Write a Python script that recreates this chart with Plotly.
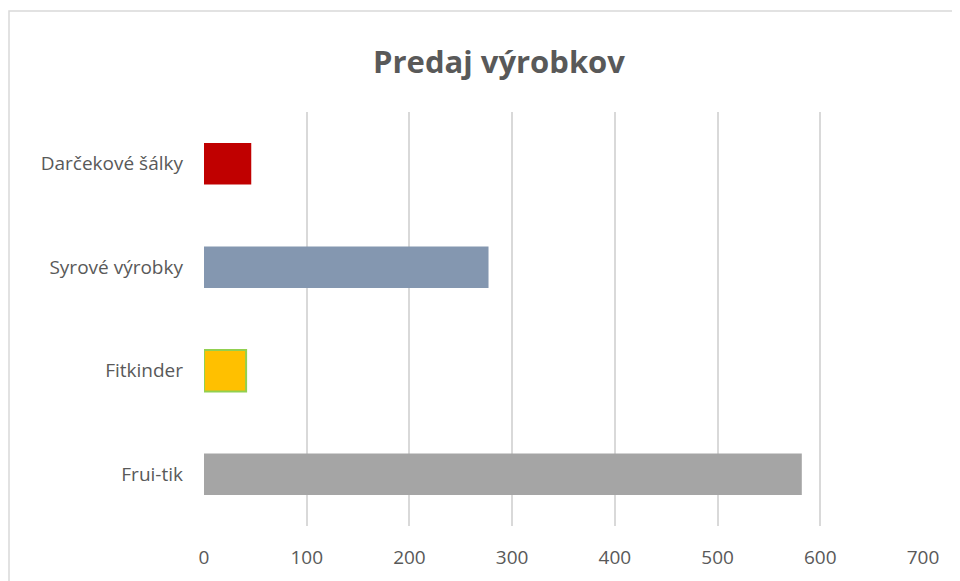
import plotly.graph_objects as go

categories = ["Frui-tik", "Fitkinder", "Syrové výrobky", "Darčekové šálky"]
values = [582, 41, 277, 46]
colors = ["#A5A5A5", "#FFC000", "#8497B0", "#C00000"]
line_colors = ["#A5A5A5", "#92D050", "#8497B0", "#C00000"]
line_widths = [0, 2, 0, 0]

fig = go.Figure(go.Bar(
    y=categories, x=values, orientation="h",
    marker=dict(color=colors, line=dict(color=line_colors, width=line_widths)),
    width=0.4,
))

OFF = 8  # page body margin
L, R, T, B = 204 - OFF, 923 - OFF, 112 - OFF, 526 - OFF
W, H = R - L, B - T
fig.add_shape(type="rect", xref="paper", yref="paper",
              x0=(1 - L) / W, x1=(1000 - L) / W,
              y0=(B - 600) / H, y1=(B - (11 - OFF)) / H,
              line=dict(color="#D9D9D9", width=1.5), layer="below")

fig.update_layout(
    width=960, height=581,
    margin=dict(l=L, r=960 - R, t=T, b=581 - B),
    paper_bgcolor="white", plot_bgcolor="white",
    font=dict(family="Open Sans", color="#595959", size=19),
    title=dict(text="<b>Predaj výrobkov</b>", x=(499 - OFF) / 960, xref="container",
               xanchor="center",
               y=1 - (62 - OFF) / 581, yanchor="middle",
               font=dict(size=31, color="#595959", family="Open Sans")),
    showlegend=False,
)
fig.update_xaxes(range=[0, 700], dtick=100, showgrid=True, gridcolor="#D9D9D9",
                 gridwidth=1.5, zeroline=False, showline=False, ticks="",
                 tickfont=dict(size=19, color="#595959"), ticklabelstandoff=18)
fig.update_yaxes(showgrid=False, zeroline=False, showline=False, ticks="",
                 tickfont=dict(size=19, color="#595959"), ticklabelstandoff=20)
fig.write_html("out.html")
